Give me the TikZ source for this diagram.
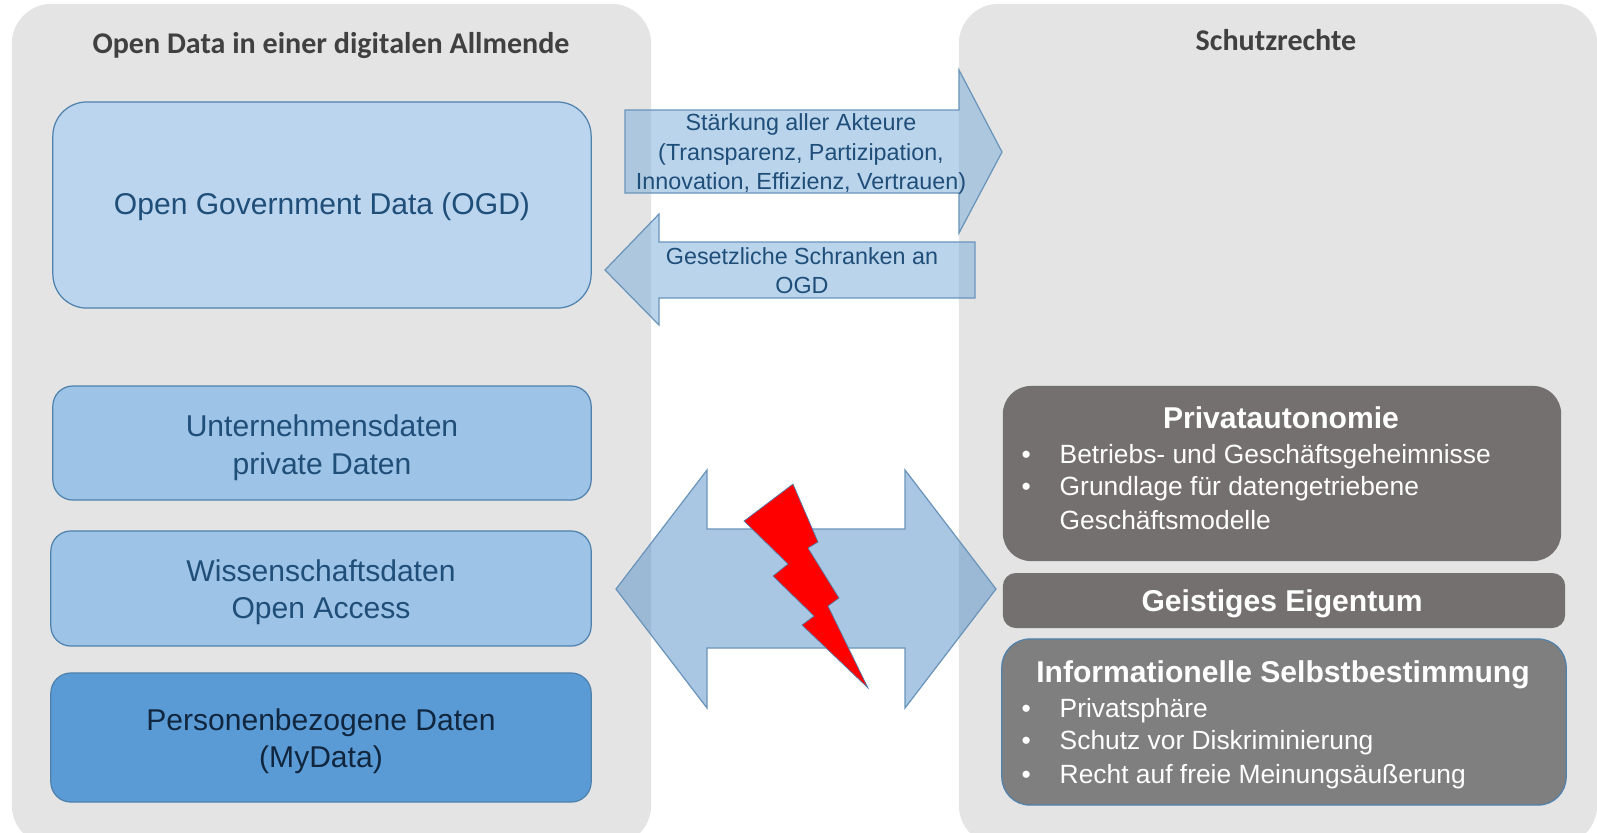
\documentclass[tikz,border=0pt]{standalone}
\usepackage{fontspec}
\setmainfont{Liberation Sans}
\newfontfamily\headfont{Carlito}
\definecolor{panelgrey}{HTML}{E4E4E4}
\definecolor{ogdblue}{HTML}{BBD5EE}
\definecolor{midblue}{HTML}{9DC3E6}
\definecolor{darkblue}{HTML}{5B9BD5}
\definecolor{edgeblue}{HTML}{4F81AD}
\definecolor{arrowedge}{HTML}{6A94BA}
\definecolor{textblue}{HTML}{1F4E79}
\definecolor{textnavy}{HTML}{10263F}
\definecolor{rightgrey}{HTML}{757070}
\definecolor{infogrey}{HTML}{7F7F7F}
\definecolor{headgrey}{HTML}{404040}
\definecolor{upperarrow}{HTML}{81B0DC}
\definecolor{bigarrow}{HTML}{5490C6}
\newcommand{\bulletline}[1]{\makebox[0.38cm][l]{\textbullet}#1}
\begin{document}
\begin{tikzpicture}[x=0.01cm,y=-0.01cm,
  panel/.style={fill=panelgrey,rounded corners=0.4cm,inner sep=0pt},
  head/.style={font=\headfont\bfseries\fontsize{8.55}{10}\selectfont,text=headgrey},
  databox/.style={draw=edgeblue,line width=0.35pt,inner sep=0pt,align=center,text=textblue,
    font=\fontsize{8.55}{10.7}\selectfont},
  rightbox/.style={fill=rightgrey,inner sep=0pt},
  boxtitle/.style={font=\bfseries\fontsize{8.56}{10}\selectfont,text=white},
  listline/.style={anchor=base west,inner sep=0pt,text=white,font=\fontsize{7.5}{9}\selectfont},
  blockarrow/.style={draw=arrowedge,line width=0.35pt,fill=upperarrow,fill opacity=0.55},
  arrowtext/.style={align=center,text=textblue,font=\fontsize{6.63}{8.3}\selectfont},
  bigblock/.style={draw=arrowedge,line width=0.35pt,fill=bigarrow,fill opacity=0.5}]
\clip (0,0) rectangle (1597,832);
% panels
\node[panel,minimum width=6.39cm,minimum height=8.41cm] (Allmende) at (331.5,424.5) {};
\node[panel,minimum width=6.38cm,minimum height=8.41cm] (Schutz) at (1278,424.5) {};
\node[head] (AllmendeHead) at (331,45) {Open Data in einer digitalen Allmende};
\node[head] (SchutzHead) at (1276,40) {Schutzrechte};
% left boxes
\node[databox,fill=ogdblue,rounded corners=0.34cm,minimum width=5.38cm,minimum height=2.06cm] (OGD) at (322,205) {\rule{0pt}{7.3pt}Open Government Data (OGD)};
\node[databox,fill=midblue,rounded corners=0.2cm,minimum width=5.38cm,minimum height=1.14cm] (Firmen) at (322,443) {\rule{0pt}{8.7pt}Unternehmensdaten\\private Daten};
\node[databox,fill=midblue,rounded corners=0.2cm,minimum width=5.4cm,minimum height=1.15cm] (Wissen) at (321,588.5) {\rule{0pt}{8.4pt}Wissenschaftsdaten\\Open Access};
\node[databox,fill=darkblue,text=textnavy,rounded corners=0.2cm,minimum width=5.4cm,minimum height=1.29cm] (Personen) at (321,737.5) {\rule{0pt}{8.2pt}Personenbezogene Daten\\(MyData)};
% right boxes
\node[rightbox,rounded corners=0.28cm,minimum width=5.58cm,minimum height=1.75cm] (Privat) at (1282,473.5) {};
\node[rightbox,rounded corners=0.13cm,minimum width=5.62cm,minimum height=0.55cm] (Eigentum) at (1284,600.5) {};
\node[rightbox,fill=infogrey,draw=edgeblue,line width=0.35pt,rounded corners=0.28cm,minimum width=5.64cm,minimum height=1.66cm] (Info) at (1284,722) {};
\node[boxtitle] (PrivatTitle) at (1281,418) {Privatautonomie};
\node[listline] (P1) at (1021,463) {\bulletline{Betriebs- und Geschäftsgeheimnisse}};
\node[listline] (P2) at (1021,495) {\bulletline{Grundlage für datengetriebene}};
\node[listline] (P3) at (1059,529) {Geschäftsmodelle};
\node[boxtitle] (EigentumTitle) at (1282,604) {Geistiges Eigentum};
\node[boxtitle] (InfoTitle) at (1283,675) {Informationelle Selbstbestimmung};
\node[listline] (I1) at (1021,717) {\bulletline{Privatsphäre}};
\node[listline] (I2) at (1021,749) {\bulletline{Schutz vor Diskriminierung}};
\node[listline] (I3) at (1021,783) {\bulletline{Recht auf freie Meinungsäußerung}};
% block arrows
\draw[blockarrow] (625,110) -- (959,110) -- (959,70) -- (1002,152) -- (959,233) -- (959,193) -- (625,193) -- cycle;
\draw[blockarrow] (605,270) -- (659,214) -- (659,242) -- (975,242) -- (975,298) -- (659,298) -- (659,325) -- cycle;
\draw[bigblock] (616,589) -- (707,470) -- (707,529) -- (905,529) -- (905,470) -- (996,589) -- (905,708) -- (905,648) -- (707,648) -- (707,708) -- cycle;
\node[arrowtext] (Staerkung) at (801,154) {Stärkung aller Akteure\\(Transparenz, Partizipation,\\Innovation, Effizienz, Vertrauen)};
\node[arrowtext] (Schranken) at (802,271) {Gesetzliche Schranken an\\OGD};
% bolt
\draw[fill=red,draw=edgeblue,line width=0.2pt] (793,484) -- (818,542) -- (808,548) -- (839,598) -- (828,606) -- (868,688) -- (802,625) -- (814,616) -- (773,576) -- (788,564) -- (744,521) -- cycle;
\end{tikzpicture}
\end{document}
